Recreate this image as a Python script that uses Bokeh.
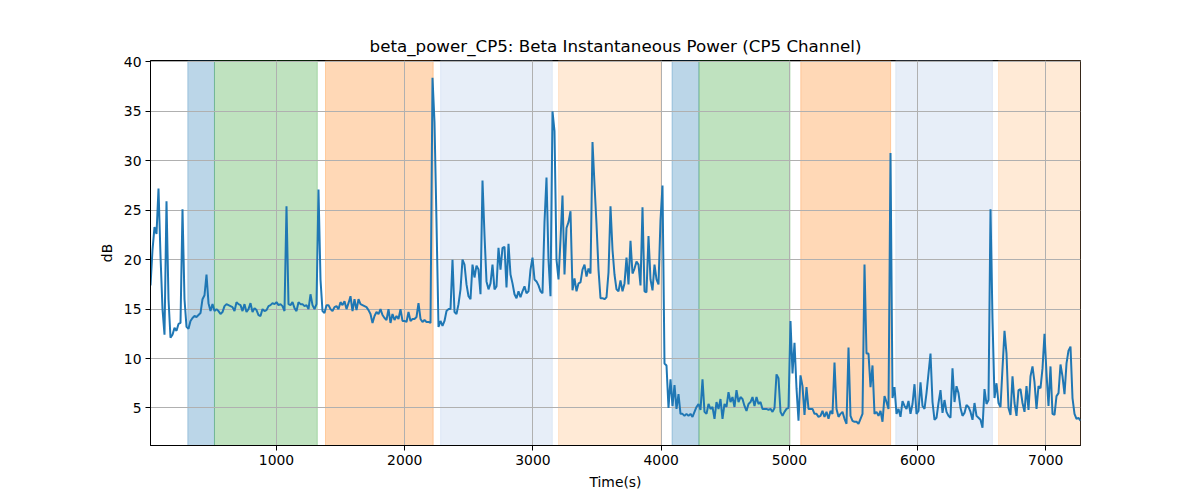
from bokeh.plotting import figure
from bokeh.models import Range1d, FixedTicker, BoxAnnotation
from bokeh.embed import file_html
from bokeh.resources import INLINE

# ---- data ----
t_start = 17.0     # seconds, first sample
t_step = 15.6      # seconds between samples

power_db = [
    17.4, 21.0, 23.3, 22.6, 27.2, 20.4, 15.0, 12.4, 25.9, 16.0,
    12.1, 12.4, 13.1, 12.8, 13.5, 13.6, 25.1, 16.0, 13.2, 13.0,
    13.8, 14.1, 14.3, 14.2, 14.4, 14.6, 16.0, 16.4, 18.5, 15.6,
    14.8, 15.5, 14.8, 15.0, 14.8, 14.5, 14.7, 15.3, 15.5, 15.4,
    15.3, 15.2, 14.8, 15.7, 15.5, 15.4, 14.8, 15.5, 14.7, 15.0,
    15.6, 14.7, 15.1, 14.9, 14.4, 14.3, 15.0, 14.8, 14.9, 15.3,
    15.4, 15.6, 15.5, 15.7, 15.4, 15.5, 15.3, 14.8, 25.4, 15.5,
    15.4, 15.7, 15.1, 14.8, 15.7, 15.5, 15.5, 15.3,
    15.4, 15.0, 16.5, 15.4, 15.0, 15.5, 27.1, 18.0, 14.8, 14.6,
    15.4, 15.4, 15.0, 14.8, 15.2, 15.3, 15.0, 15.7, 15.4, 15.8,
    15.0, 15.6, 16.3, 14.8, 16.0, 14.9, 16.0, 15.5, 15.4, 15.3,
    15.2, 14.9, 14.5, 13.6, 14.3, 14.7, 14.5, 15.0, 14.4, 14.1,
    13.9, 15.0, 13.6, 14.5, 13.9, 14.3, 14.0, 15.0, 13.8, 13.8,
    13.7, 14.7, 13.8, 14.0, 14.0, 14.2, 15.6, 14.0, 13.7, 13.9,
    13.7, 13.7, 13.6, 38.4, 33.9, 23.8, 13.2, 13.8, 13.3, 13.8,
    14.8, 15.0, 15.0, 20.0, 14.7, 14.5, 15.5,
    17.0, 20.0, 19.5, 17.5, 16.3, 16.0, 19.5, 18.2, 19.4, 19.0,
    16.5, 28.0, 22.5, 17.8, 17.0, 17.6, 19.5, 17.0, 17.3, 21.2,
    19.0, 21.2, 21.3, 17.2, 21.6, 18.5, 17.6, 16.5, 16.1, 16.8,
    16.2, 16.8, 17.3, 16.6, 16.8, 19.0, 20.2, 18.0, 17.8, 17.4,
    16.8, 16.6, 23.8, 28.3, 20.0, 16.3, 35.0, 33.0, 20.0, 18.0,
    22.0, 26.5, 18.5, 23.2, 23.8, 24.9, 16.9, 18.1, 16.8, 17.6,
    17.7, 19.0, 19.5, 18.3, 19.1, 18.6, 31.9, 27.6, 23.6, 19.0,
    16.1, 16.1, 16.0, 16.2, 18.7, 25.4, 21.0, 18.5,
    17.0, 16.8, 17.9, 16.8, 17.6, 20.2, 17.5, 21.9, 18.6, 19.1,
    19.8, 19.5, 17.4, 25.3, 16.8, 16.7, 22.4, 18.0, 16.9, 19.5,
    18.0, 17.5, 24.0, 27.5, 9.5, 9.3, 5.0, 7.9, 5.2, 7.3,
    4.9, 6.4, 4.4, 4.4, 4.2, 4.4, 4.2, 4.4, 4.1, 4.6,
    5.1, 5.4, 4.8, 7.9, 4.6, 4.4, 5.4, 4.9, 5.1, 3.9,
    5.6, 4.9, 5.9, 3.9, 5.4, 5.1, 6.6, 5.6, 6.1, 5.1,
    6.8, 5.6, 6.1, 5.9, 5.2, 4.7, 5.4, 5.6, 6.1, 5.2,
    6.1, 5.4, 5.6, 4.9, 4.9, 4.9, 4.8,
    4.9, 4.6, 5.0, 8.4, 8.0, 4.6, 4.2, 4.6, 4.9, 5.0,
    13.8, 8.5, 11.6, 7.0, 3.7, 8.3, 7.2, 4.3, 7.1, 4.9,
    4.9, 4.9, 4.4, 4.4, 4.1, 4.2, 4.7, 4.1, 4.6, 3.9,
    4.7, 4.4, 9.6, 4.9, 4.1, 4.4, 4.6, 3.9, 3.4, 11.1,
    4.2, 3.7, 3.6, 3.6, 3.4, 3.9, 4.4, 19.5, 10.5, 10.5,
    7.1, 9.3, 4.4, 4.6, 4.2, 4.7, 3.6, 6.2, 5.6, 4.9,
    30.8, 6.0, 7.1, 4.4, 4.9, 4.1, 5.7, 5.2, 4.9, 5.7,
    4.4, 5.4, 7.4, 4.4, 4.7, 7.6, 5.2, 4.9,
    6.5, 8.5, 10.5, 5.6, 3.8, 4.0, 5.5, 6.8, 4.5, 5.8,
    4.6, 4.2, 4.0, 9.0, 5.6, 7.2, 6.5, 5.0, 4.2, 4.5,
    5.3, 5.1, 4.6, 3.8, 5.5, 4.2, 4.0, 3.8, 3.0, 6.9,
    5.4, 5.8, 25.1, 14.0, 6.0, 7.5, 5.5, 5.1, 9.0, 12.8,
    10.5, 5.0, 4.3, 8.2, 5.5, 4.2, 6.8, 6.9, 5.5, 4.6,
    7.2, 4.8, 8.2, 9.2, 7.6, 4.9, 7.2, 7.0, 9.0, 12.5,
    8.5, 5.2, 9.2, 4.4, 4.3, 6.2, 6.5, 9.4, 8.2, 6.4,
    9.5, 10.8, 11.2, 6.0, 4.4, 3.9, 4.0, 3.7,
]
time_s = [t_start + t_step * i for i in range(len(power_db))]

span_start = [308, 516, 1382, 2280, 3200, 4085, 4295, 5089, 5830, 6632]
span_end = [516, 1318, 2222, 3151, 3996, 4295, 5005, 5790, 6584, 7271]
span_color = ["#1f77b4", "#2ca02c", "#ff7f0e", "#aec7e8", "#ffbb78",
              "#1f77b4", "#2ca02c", "#ff7f0e", "#aec7e8", "#ffbb78"]

x_ticks = [1000, 2000, 3000, 4000, 5000, 6000, 7000]
y_ticks = [5, 10, 15, 20, 25, 30, 35, 40]

title_text = "beta_power_CP5: Beta Instantaneous Power (CP5 Channel)"

# ---- figure ----
FONT = "DejaVu Sans"
p = figure(width=1200, height=500, output_backend="svg", toolbar_location=None,
           x_range=Range1d(time_s[0], time_s[-1]), y_range=Range1d(1.2, 40.15),
           min_border_left=150, min_border_right=120, min_border_top=60,
           min_border_bottom=55, title=title_text)

p.title.align = "center"
p.title.text_font = FONT
p.title.text_font_size = "16.7px"
p.title.text_font_style = "normal"
p.title.text_color = "black"

for s, e, c in zip(span_start, span_end, span_color):
    p.add_layout(BoxAnnotation(left=s, right=e, fill_color=c, fill_alpha=0.3,
                               line_color=c, line_alpha=0.3, line_width=1,
                               level="image"))

p.line(time_s, power_db, line_color="#1f77b4", line_width=2)

p.xaxis.ticker = FixedTicker(ticks=x_ticks)
p.yaxis.ticker = FixedTicker(ticks=y_ticks)
p.xaxis.axis_label = "Time(s)"
p.yaxis.axis_label = "dB"
for ax in (p.xaxis, p.yaxis):
    ax.axis_label_text_font = FONT
    ax.axis_label_text_font_size = "13.9px"
    ax.axis_label_text_font_style = "normal"
    ax.axis_label_text_color = "black"
    ax.major_label_text_font = FONT
    ax.major_label_text_font_size = "13.9px"
    ax.major_label_text_color = "black"
    ax.major_tick_out = 5
    ax.major_tick_in = 0
    ax.minor_tick_line_color = None
    ax.axis_line_color = "black"
    ax.major_tick_line_color = "black"
    ax.major_label_standoff = 4
    ax.axis_label_standoff = 6

p.grid.grid_line_color = "#b0b0b0"
p.grid.grid_line_width = 1
p.outline_line_color = "black"
p.outline_line_alpha = 1
p.outline_line_width = 1
p.background_fill_color = "white"
p.border_fill_color = "white"

open("out.html", "w").write(file_html(p, INLINE))
